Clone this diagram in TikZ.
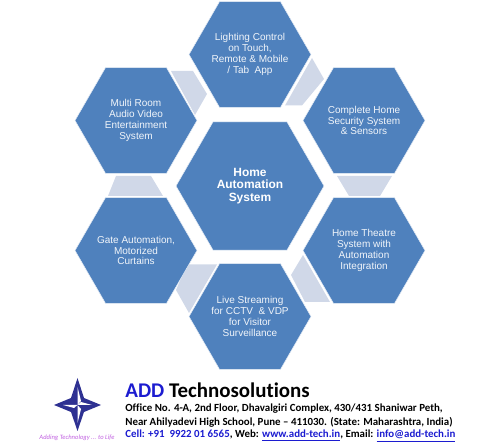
\documentclass[tikz,border=0pt]{standalone}
\usepackage{fontspec}
\setmainfont{Carlito}[Ligatures={TeX,NoCommon}]
\newfontfamily\hexfont{Liberation Sans}
\usetikzlibrary{shapes.geometric}
\definecolor{hexblue}{HTML}{4F81BD}
\definecolor{linkgray}{HTML}{D0D8E8}
\definecolor{starblue}{HTML}{2E3192}
\definecolor{addblue}{HTML}{1C1CD0}
\definecolor{tagpink}{HTML}{C060E0}
\tikzset{
    hexcell/.style={regular polygon, regular polygon sides=6,
        fill=hexblue, draw=white!85!hexblue, line width=0.3pt, inner sep=-10pt,
        minimum size=2.44cm, text=white!92!hexblue, align=center,
        font=\hexfont\fontsize{5.7}{6.2}\selectfont},
    hexhub/.style={hexcell, minimum size=2.96cm,
        text=white, font=\hexfont\bfseries\fontsize{6.8}{7.3}\selectfont},
    hexlink/.style={fill=linkgray},
    addrline/.style={anchor=west, inner sep=0pt, font=\bfseries\fontsize{6.2}{9}\selectfont},
}
\begin{document}
\begin{tikzpicture}[x=0.02cm, y=-0.02cm]
    \useasboundingbox (0,0) rectangle (500,448);

    % Links between the outer cells
    \fill[hexlink] (171,71) -- (193,71) -- (207,94) -- (195,115) -- cycle;
    \fill[hexlink] (312,58) -- (324,79) -- (302,105.5) -- (285,105.5) -- cycle;
    \fill[hexlink] (337,176) -- (392,176) -- (380,196) -- (349,196) -- cycle;
    \fill[hexlink] (303,255) -- (330,302) -- (305,302) -- (291,275) -- cycle;
    \fill[hexlink] (187,264.5) -- (217,264.5) -- (189,313) -- (176,290) -- cycle;
    \fill[hexlink] (116,176) -- (151,176) -- (163,196) -- (108,196) -- cycle;

    % Cells
    \node[hexhub] (hub) at (250,186) {Home\\Automation\\System};
    \node[hexcell] (light) at (250,54.5) {Lighting Control\\on Touch,\\Remote \& Mobile\\/ Tab~ App};
    \node[hexcell] (secur) at (364,120.5) {Complete Home\\Security System\\\& Sensors};
    \node[hexcell] (theatre) at (364,250.5) {Home Theatre\\System with\\Automation\\Integration};
    \node[hexcell] (stream) at (250,316.5) {Live Streaming\\for CCTV ~\& VDP\\for Visitor\\Surveillance};
    \node[hexcell] (gate) at (136,250.5) {Gate Automation,\\Motorized\\Curtains};
    \node[hexcell] (audio) at (136,120.5) {Multi Room\\Audio Video\\Entertainment\\System};

    % Logo star
    \fill[starblue] (77.5,378) -- (84,398) -- (101,405) -- (84,412) -- (77.5,431) -- (71,412) -- (54,405) -- (71,398) -- cycle;
    \fill[white] (77.5,387) -- (81,401) -- (77.5,405) -- cycle;
    \fill[white] (92,405) -- (81,402) -- (77.5,405) -- cycle;
    \fill[white] (77.5,423) -- (81,409) -- (77.5,405) -- cycle;
    \fill[white] (63,405) -- (74,408) -- (77.5,405) -- cycle;
    \node[anchor=center, inner sep=0pt, text=tagpink, font=\itshape\fontsize{3.75}{5}\selectfont] (tag) at (77,437.5) {Adding Technology ... to Life};

    % Address block
    \node[anchor=west, inner sep=0pt, font=\bfseries\fontsize{11.9}{14}\selectfont] (name) at (125,390) {\textcolor{addblue}{ADD} Technosolutions};
    \node[addrline] (addr1) at (125,409) {Office No. 4-A, 2nd Floor, Dhavalgiri Complex, 430/431 Shaniwar Peth,};
    \node[addrline] (addr2) at (125,422.5) {Near Ahilyadevi High School, Pune -- 411030. (State: Maharashtra, India)};
    \node[addrline] (addr3) at (125,436) {\textcolor{addblue}{Cell: +91 ~9922 01 6565}, Web: \textcolor{addblue}{\underline{www.add-tech.in}}, Email: \textcolor{addblue}{\underline{info@add-tech.in}}};
\end{tikzpicture}
\end{document}
